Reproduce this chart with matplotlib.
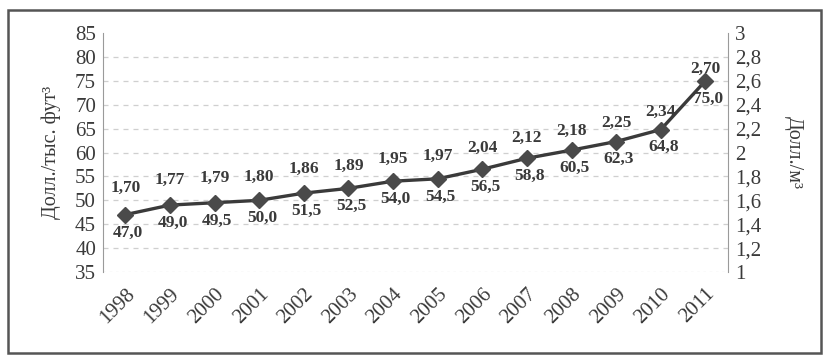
import matplotlib.pyplot as plt
from matplotlib.patches import Rectangle
from matplotlib.transforms import ScaledTranslation
import numpy as np

# price per thousand cubic feet (left axis) and per cubic metre (right axis)
years = ["1998", "1999", "2000", "2001", "2002", "2003", "2004",
         "2005", "2006", "2007", "2008", "2009", "2010", "2011"]
per_kft3 = [47.0, 49.0, 49.5, 50.0, 51.5, 52.5, 54.0,
            54.5, 56.5, 58.8, 60.5, 62.3, 64.8, 75.0]
per_m3 = [1.70, 1.77, 1.79, 1.80, 1.86, 1.89, 1.95,
          1.97, 2.04, 2.12, 2.18, 2.25, 2.34, 2.70]

plt.rcParams['font.family'] = ['Liberation Serif', 'DejaVu Serif']
dark = "#3a3a3a"

fig = plt.figure(figsize=(8.27, 3.57), dpi=100)
ax1 = fig.add_axes([0.1245, 0.238, 0.7555, 0.6696])
ax2 = ax1.twinx()

x = np.arange(len(years))

# dashed grid
for g in range(40, 85, 5):
    ax1.axhline(g, color="#cfcfcf", lw=0.9, ls=(0, (4, 4)), zorder=0)
ax1.axhline(35, color="#dadada", lw=0.9, ls=(0, (2, 3)), zorder=0)

ax1.plot(x, per_kft3, color=dark, lw=2.4, marker="D", ms=8,
         mfc="#4a4a4a", mec="#4a4a4a", zorder=3)
for xi, v in zip(x, per_kft3):
    ax1.annotate(f"{v:.1f}".replace(".", ","), (xi, v), xytext=(2, -7),
                 textcoords="offset points", ha="center", va="top",
                 fontsize=12.5, fontweight="bold", color=dark)

# second series: only its value labels are shown
ax2.plot(x, per_m3, alpha=0)
for xi, v in zip(x, per_m3):
    ax2.text(xi, v, f"{v:.2f}".replace(".", ","), ha="center", va="center",
             fontsize=12.5, fontweight="bold", color=dark)

ax1.set_xlim(-0.5, len(years) - 0.5)
ax1.set_ylim(35, 85)
ax1.set_yticks(range(35, 90, 5))
ax2.set_ylim(1, 3)
r_ticks = np.round(np.arange(1, 3.01, 0.2), 1)
ax2.set_yticks(r_ticks)
ax2.set_yticklabels([f"{t:g}".replace(".", ",") for t in r_ticks])

ax1.set_xticks(x)
ax1.set_xticklabels(years, rotation=45, ha="right", rotation_mode="anchor")
shift = ScaledTranslation(-8 / 100, 0, fig.dpi_scale_trans)
for lbl in ax1.get_xticklabels():
    lbl.set_transform(lbl.get_transform() + shift)

for a in (ax1, ax2):
    for s in a.spines.values():
        s.set_visible(False)
    a.tick_params(length=0, labelsize=15, colors=dark, pad=5)
ax1.tick_params(axis="x", labelsize=15, pad=9)
ax1.spines["left"].set_visible(True)
ax1.spines["left"].set_color("#9a9a9a")
ax2.spines["right"].set_visible(True)
ax2.spines["right"].set_color("#9a9a9a")

ax1.set_ylabel("Долл./тыс. фут³", fontsize=14.5, color=dark, labelpad=10)
ax2.set_ylabel("Долл./м³", fontsize=14.5, color=dark, rotation=270,
               labelpad=30)

# outer frame
fig.patches.append(Rectangle((8 / 827, 4 / 357), 813 / 827, 343 / 357,
                             transform=fig.transFigure, fill=False,
                             ec="#555555", lw=1.8))

fig.savefig("out.png", dpi=100)
